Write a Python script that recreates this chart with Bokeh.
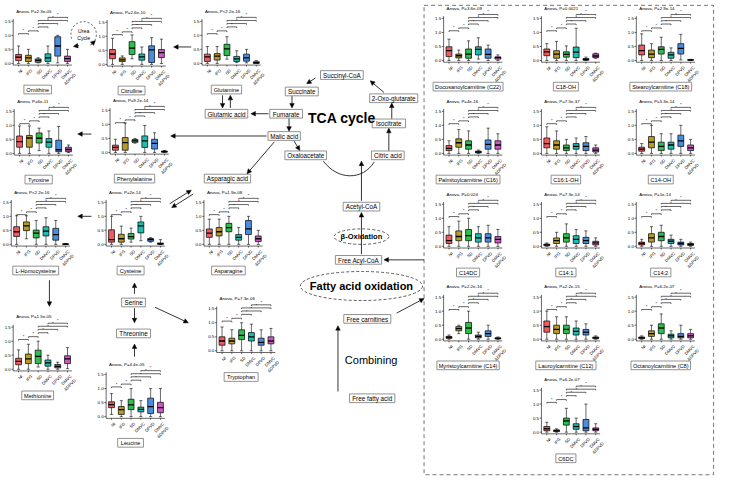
import math
from bokeh.plotting import figure
from bokeh.models import Range1d, Arrow, NormalHead, ColumnDataSource
from bokeh.core.properties import value
from bokeh.embed import file_html
from bokeh.resources import INLINE

FONT = "Liberation Sans"
GROUPS = ["NI", "IFG", "SD", "DMVC", "DPVD", "DMVC\n&DPVD"]
COLORS = ["#ef5b63", "#b89b26", "#2dbf4b", "#1ebdb0", "#4a8de0", "#cb59c4"]
Y_TICKS = [0.0, 0.5, 1.0, 1.5]
Y_TICK_LABELS = ["0.0", "0.5", "1.0", "1.5"]
# significance brackets: (group a, group b, height)
BRACKETS = [(0, 1, 1.06), (1, 2, 1.16), (2, 3, 1.30), (2, 4, 1.42), (2, 5, 1.53), (3, 5, 1.64)]

# box statistics per group: [low whisker, q1, median, q3, high whisker]
ORNITHINE = [[0, .10, .22, .32, .62], [0, .07, .20, .29, .50], [.02, .04, .11, .16, .20],
             [0, .07, .20, .34, .62], [.02, .26, .62, .95, 1.0], [0, .07, .17, .26, .50]]
CITRULLINE = [[0, .20, .37, .53, .93], [0, .10, .16, .23, .30], [.20, .35, .58, .81, 1.05],
              [0, .15, .27, .37, .62], [0, .07, .52, .66, .95], [.03, .24, .42, .53, .90]]
GLUTAMINE = [[0, .07, .23, .33, .60], [0, .12, .26, .35, .60], [.15, .28, .52, .68, .95],
             [.03, .07, .16, .25, .45], [.02, .08, .20, .33, .50], [0, .0, .03, .06, .10]]
TYROSINE = [[0, .22, .42, .62, .98], [0, .22, .55, .64, .98], [.10, .37, .54, .73, .90],
            [0, .22, .40, .53, .80], [0, .06, .13, .47, .96], [.03, .06, .14, .22, .30]]
PHENYLALANINE = [[0, .08, .18, .26, .47], [0, .08, .35, .53, 1.05], [.33, .36, .41, .46, .50],
                 [0, .18, .41, .59, .96], [0, .12, .32, .47, .70], [0, .01, .03, .05, .07]]
HOMOCYSTEINE = [[0, .28, .45, .63, 1.02], [.20, .49, .66, .80, 1.02], [0, .23, .40, .51, .85],
                [0, .30, .47, .63, .95], [0, .15, .35, .57, .85], [0, 0, .01, .02, .03]]
CYSTEINE = [[0, .08, .17, .52, 1.0], [0, .08, .20, .36, .65], [.08, .19, .28, .39, .58],
            [.13, .41, .66, .80, 1.0], [.08, .11, .17, .21, .24], [0, 0, .03, .05, .17]]
ASPARAGINE = [[0, .25, .40, .55, .90], [0, .30, .45, .60, .90], [0, .45, .60, .75, 1.0],
              [0, .15, .25, .35, .60], [0, .35, .55, .85, 1.0], [0, .10, .20, .30, .50]]
METHIONINE = [[0, .16, .28, .39, .69], [0, .20, .37, .54, .89], [.08, .20, .46, .68, 1.0],
              [0, .11, .23, .33, .50], [0, .05, .10, .17, .25], [.02, .20, .37, .48, .77]]
TRYPTOPHAN = [[0, .20, .35, .50, .85], [0, .25, .35, .45, .75], [0, .40, .55, .75, 1.0],
              [0, .35, .50, .65, .95], [0, .20, .30, .45, .75], [0, .25, .35, .50, .80]]
LEUCINE = [[.08, .32, .43, .53, .82], [0, .08, .25, .36, .57], [0, .25, .42, .62, 1.0],
           [0, .17, .26, .34, .57], [0, .11, .36, .66, 1.0], [0, .14, .32, .51, 1.0]]
C22 = [[0, .14, .35, .49, .76], [0, .09, .17, .23, .37], [0, .08, .23, .41, .70],
       [.05, .20, .40, .49, .81], [0, .08, .22, .41, .55], [0, .05, .10, .13, .20]]
C18OH = [[0, .17, .31, .41, .60], [0, .08, .23, .35, .68], [0, .12, .22, .31, .52],
         [0, .10, .30, .48, 1.15], [0, .01, .04, .07, .12], [.08, .10, .16, .24, .26]]
C18 = [[0, .20, .35, .55, .95], [0, .10, .23, .37, .60], [0, .23, .40, .49, .83],
       [0, .08, .20, .29, .45], [.02, .23, .43, .60, .93], [0, .01, .02, .03, .04]]
C16 = [[0, .10, .18, .28, .45], [0, .22, .38, .52, .85], [0, .15, .30, .45, .80],
       [0, .02, .05, .08, .12], [0, .15, .32, .48, .90], [0, .15, .30, .45, .70]]
C161OH = [[0, .20, .35, .55, .95], [0, .15, .30, .45, .80], [0, .10, .20, .30, .50],
          [0, .15, .25, .35, .55], [0, .10, .25, .38, .60], [0, .05, .12, .20, .30]]
C14OH = [[0, .08, .15, .22, .35], [0, .20, .40, .60, 1.0], [0, .10, .25, .40, .70],
         [0, .15, .30, .40, .70], [0, .25, .45, .65, 1.0], [0, .10, .20, .30, .50]]
C14DC = [[0, .10, .20, .40, .70], [0, .20, .35, .55, .90], [0, .20, .38, .60, 1.0],
         [0, .15, .30, .45, .70], [0, .15, .30, .45, .75], [0, .12, .25, .35, .60]]
C141 = [[0, .02, .05, .08, .12], [0, .10, .20, .30, .50], [0, .15, .30, .45, .80],
        [0, .10, .25, .38, .60], [0, .10, .20, .32, .55], [0, .05, .12, .18, .30]]
C142 = [[0, .05, .10, .15, .25], [0, .15, .30, .45, .70], [0, .20, .35, .50, .75],
        [0, .10, .18, .25, .40], [0, .05, .10, .15, .25], [0, .03, .07, .10, .15]]
C14 = [[0, .03, .07, .10, .15], [.20, .30, .38, .45, .50], [0, .20, .40, .60, 1.0],
       [0, .05, .10, .15, .25], [0, .10, .20, .30, .50], [0, .01, .03, .05, .08]]
C12 = [[0, .25, .45, .65, 1.0], [0, .20, .35, .50, .80], [0, .20, .35, .50, .80],
       [0, .15, .28, .40, .65], [0, .15, .25, .35, .55], [0, .02, .05, .08, .12]]
C8 = [[0, .02, .05, .08, .12], [0, .10, .20, .30, .50], [0, .20, .40, .55, .90],
      [0, .05, .12, .18, .30], [0, .05, .10, .20, .50], [0, .05, .12, .20, .35]]
C6DC = [[0, .05, .12, .20, .35], [0, .02, .05, .08, .12], [0, .25, .40, .50, .85],
        [0, .10, .20, .30, .50], [0, .05, .15, .45, 1.0], [0, .05, .10, .15, .30]]

# (metabolite, test label, stats, axis x, zero-line y)   -- layout in page pixels
PANELS = [
    ("Ornithine", "Anova, P=2.3e-05", ORNITHINE, 13, 65),
    ("Citrulline", "Anova, P=2.6e-10", CITRULLINE, 109, 66),
    ("Glutamine", "Anova, P<2.2e-16", GLUTAMINE, 206, 65),
    ("Tyrosine", "Anova, P=6e-11", TYROSINE, 14, 158),
    ("Phenylalanine", "Anova, P=9.2e-14", PHENYLALANINE, 112, 157),
    ("L-Homocysteine", "Anova, P<2.2e-16", HOMOCYSTEINE, 11, 252),
    ("Cysteine", "Anova, P=2e-14", CYSTEINE, 108, 252),
    ("Asparagine", "Anova, P=1.9e-08", ASPARAGINE, 208, 252),
    ("Methionine", "Anova, P=1.5e-05", METHIONINE, 13, 381),
    ("Tryptophan", "Anova, P=7.3e-06", TRYPTOPHAN, 221, 362),
    ("Leucine", "Anova, P=4.4e-05", LEUCINE, 108, 430),
    ("Docosanoylcarnitine (C22)", "Anova, P=3.6e-09", C22, 453, 62),
    ("C18-OH", "Anova, P=0.0021", C18OH, 553, 62),
    ("Stearoylcarnitine (C18)", "Anova, P=2.9e-14", C18, 650, 62),
    ("Palmitoylcarnitine (C16)", "Anova, P=4e-16", C16, 453, 158),
    ("C16:1-OH", "Anova, P=7.5e-37", C161OH, 553, 158),
    ("C14-OH", "Anova, P=5.3e-14", C14OH, 650, 158),
    ("C14DC", "Anova, P=0.024", C14DC, 453, 254),
    ("C14:1", "Anova, P=7.3e-14", C141, 553, 254),
    ("C14:2", "Anova, P=1e-14", C142, 650, 254),
    ("Myristoylcarnitine (C14)", "Anova, P=2.2e-16", C14, 453, 350),
    ("Lauroylcarnitine (C12)", "Anova, P=2.2e-15", C12, 553, 350),
    ("Octanoylcarnitine (C8)", "Anova, P=6.2e-07", C8, 650, 350),
    ("C6DC", "Anova, P=6.2e-07", C6DC, 553, 446),
]

# pathway nodes: (label, centre x, centre y)
NODES = [
    ("Succinyl-CoA", 349, 77), ("Succinate", 308, 94), ("Fumarate", 292, 117),
    ("Glutamic acid", 231, 117), ("Malic acid", 290, 140), ("Oxaloacetate", 312, 160),
    ("Citric acid", 396, 160), ("Isocitrate", 397, 127), ("2-Oxo-glutarate", 402, 101),
    ("Asparagic acid", 232, 184), ("Serine", 136, 312), ("Threonine", 136, 344),
    ("Acetyl-CoA", 369, 213), ("Free Acyl-CoA", 366, 268), ("Free carnitines", 375, 329),
    ("Free fatty acid", 380, 411),
]
# arrows (x0, y0) -> (x1, y1)
ARROWS = [
    (195, 48, 177, 48), (93, 138, 79, 138), (93, 223, 79, 223), (50, 289, 50, 316),
    (272, 140, 174, 140), (274, 117, 256, 117), (227, 98, 227, 111), (235, 111, 235, 98),
    (322, 80, 313, 86), (298, 99, 298, 111), (295, 122, 295, 135), (300, 145, 306, 155),
    (392, 95, 378, 83), (400, 122, 400, 106), (397, 155, 397, 132), (369, 207, 369, 166),
    (369, 262, 369, 219), (433, 268, 392, 268), (405, 323, 433, 308), (345, 404, 345, 336),
    (280, 146, 252, 179), (173, 210, 195, 196), (197, 200, 175, 214), (137, 303, 137, 292),
    (137, 318, 137, 333), (137, 368, 137, 355), (158, 317, 192, 333),
    (80, 46.5, 74.5, 47.5), (92, 46, 97, 41.5),
]

UNIT = 29.0   # pixels per unit of relative level
STEP = 10.0
BW = 6.0

CW = {c: .556 for c in "abdeghnopqu0123456789"}
CW.update({"c": .5, "k": .5, "s": .5, "v": .5, "x": .5, "y": .5, "z": .5, "f": .278, "t": .278,
           "i": .222, "j": .222, "l": .222, "r": .333, "m": .833, "w": .722, " ": .278,
           "(": .333, ")": .333, "-": .333, ":": .278, ",": .278, ".": .278, "=": .584,
           "<": .584, "&": .667, "*": .389})


def tw(s, size):
    return sum(CW.get(ch, .68) for ch in s) * size


p = figure(width=717, height=481, x_range=Range1d(0, 733), y_range=Range1d(497, 0),
           output_backend="svg", toolbar_location=None, min_border=0)
p.axis.visible = False
p.grid.visible = False
p.outline_line_color = None
p.background_fill_color = "white"

box = dict(l=[], r=[], t=[], b=[], c=[])
segs = dict(x0=[], y0=[], x1=[], y1=[], w=[])
txt = dict(x=[], y=[], t=[], s=[], a=[], al=[], bl=[])


def seg(x0, y0, x1, y1, w=0.7):
    segs["x0"].append(x0); segs["y0"].append(y0); segs["x1"].append(x1); segs["y1"].append(y1)
    segs["w"].append(w)


def text(x, y, t, size, align="left", base="middle", angle=0.0):
    txt["x"].append(x); txt["y"].append(y); txt["t"].append(t); txt["s"].append("%.1fpx" % size)
    txt["a"].append(angle); txt["al"].append(align); txt["bl"].append(base)


name_boxes = dict(x=[], y=[], w=[], h=[])

for name, anova, stats, ax, zy in PANELS:
    def Y(v):
        return zy - v * UNIT
    # y axis
    seg(ax, Y(-0.06), ax, Y(1.58), 0.6)
    for tv, tl in zip(Y_TICKS, Y_TICK_LABELS):
        seg(ax - 1.8, Y(tv), ax, Y(tv), 0.6)
        text(ax - 2.5, Y(tv), tl, 4.4, "right", "middle")
    xs = [ax + 5.5 + i * STEP for i in range(len(GROUPS))]
    seg(ax, Y(-0.06), xs[-1] + 4.5, Y(-0.06), 0.6)
    for i, (lo, q1, md, q3, hi) in enumerate(stats):
        xc = xs[i]
        seg(xc, Y(lo), xc, Y(q1), 0.6)
        seg(xc, Y(q3), xc, Y(hi), 0.6)
        seg(xc - 1.6, Y(lo), xc + 1.6, Y(lo), 0.6)
        seg(xc - 1.6, Y(hi), xc + 1.6, Y(hi), 0.6)
        box["l"].append(xc - BW / 2); box["r"].append(xc + BW / 2)
        box["t"].append(Y(q3)); box["b"].append(Y(q1)); box["c"].append(COLORS[i])
        seg(xc - BW / 2, Y(md), xc + BW / 2, Y(md), 1.3)
        seg(xc, Y(-0.06), xc, Y(-0.06) + 1.5, 0.6)
        text(xc + 1.5, Y(-0.06) + 3, GROUPS[i], 4.2, "right", "top", math.pi / 4)
    for a, b, h in BRACKETS:
        seg(xs[a], Y(h), xs[b], Y(h), 0.6)
        seg(xs[a], Y(h), xs[a], Y(h) + 1.2, 0.6)
        seg(xs[b], Y(h), xs[b], Y(h) + 1.2, 0.6)
        text((xs[a] + xs[b]) / 2, Y(h) - 0.3, "*", 4.0, "center", "bottom")
    text(ax + 3, zy - 54, anova, 4.4, "left", "middle")
    nx, ny = ax + 25, zy + 27
    w = tw(name, 5.6) + 6
    name_boxes["x"].append(nx); name_boxes["y"].append(ny)
    name_boxes["w"].append(w); name_boxes["h"].append(9)
    text(nx, ny + 0.3, name, 5.6, "center", "middle")

# pathway node boxes
for label, x, y in NODES:
    name_boxes["x"].append(x); name_boxes["y"].append(y)
    name_boxes["w"].append(tw(label, 6.3) + 6); name_boxes["h"].append(9)
    text(x, y + 0.3, label, 6.3, "center", "middle")

# big dashed frame on the right
p.quad(left=[433], right=[729], top=[5], bottom=[490], fill_alpha=0, line_color="#666666",
       line_dash="4 3", line_width=0.9)

p.rect(x="x", y="y", width="w", height="h", source=ColumnDataSource(name_boxes),
       fill_color="white", line_color="#777777", line_width=0.8)
p.quad(left="l", right="r", top="t", bottom="b", fill_color="c", line_color="black",
       line_width=0.7, source=ColumnDataSource(box))
p.segment(x0="x0", y0="y0", x1="x1", y1="y1", line_width="w", line_color="black",
          source=ColumnDataSource(segs))
p.text(x="x", y="y", text="t", text_font_size="s", angle="a", text_align="al",
       text_baseline="bl", text_font=value(FONT), text_color="black",
       source=ColumnDataSource(txt))

# urea cycle and oxidation ellipses
p.arc(x=[85], y=[35], radius=[13], start_angle=[-0.5], end_angle=[3.6], direction="anticlock",
      line_color="#333333", line_dash="2 2", line_width=0.8)
p.text(x=[85], y=[35], text=["Urea\nCycle"], text_font_size="5.2px", text_align="center",
       text_baseline="middle", text_font=value(FONT))
p.ellipse(x=[369, 369], y=[244, 295], width=[56, 125], height=[16, 30], fill_alpha=0,
          line_color="#333333", line_dash="3 2", line_width=0.8)
p.text(x=[369], y=[244], text=["β-Oxidation"], text_font_size="7.5px", text_align="center",
       text_baseline="middle", text_font=value(FONT), text_font_style="bold")
p.text(x=[369], y=[295], text=["Fatty acid oxidation"], text_font_size="11px",
       text_align="center", text_baseline="middle", text_font=value(FONT), text_font_style="bold")
p.text(x=[349], y=[121], text=["TCA cycle"], text_font_size="14px", text_align="center",
       text_baseline="middle", text_font=value(FONT), text_font_style="bold")
p.text(x=[352], y=[371], text=["Combining"], text_font_size="11px", text_align="left",
       text_baseline="middle", text_font=value(FONT))
# oxaloacetate -> citric acid curve
p.bezier(x0=[330], y0=[166], x1=[382], y1=[167], cx0=[345], cy0=[186], cx1=[370], cy1=[186],
         line_color="black", line_width=0.8)

arr = ColumnDataSource(dict(x0=[a[0] for a in ARROWS], y0=[a[1] for a in ARROWS],
                            x1=[a[2] for a in ARROWS], y1=[a[3] for a in ARROWS]))
p.add_layout(Arrow(end=NormalHead(size=4.5, fill_color="black", line_color="black", line_width=0.5),
                   x_start="x0", y_start="y0", x_end="x1", y_end="y1", line_width=0.8,
                   source=arr))

open("out.html", "w").write(file_html(p, INLINE))
